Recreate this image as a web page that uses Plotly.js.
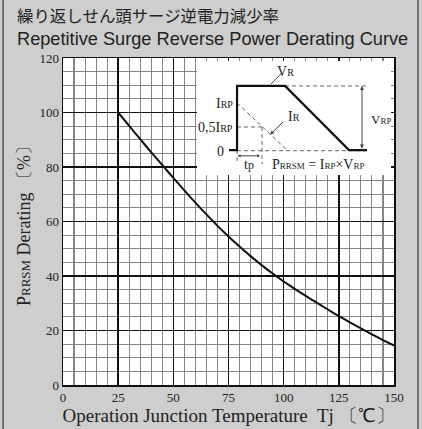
<!DOCTYPE html>
<html><head><meta charset="utf-8">
<script src="https://cdn.plot.ly/plotly-3.0.1.min.js"></script>
<style>html,body{margin:0;padding:0;background:#cecece;}#chart{width:422px;height:429px;}</style>
</head><body><div id="chart"></div>
<script>
// ---- main chart data ----
const tempC   = [25, 30, 35, 40, 45, 50, 55, 60, 65, 70, 75, 80, 85, 90, 95, 100, 105, 110, 115, 120, 125, 130, 135, 140, 145, 150];
const derating = [100, 95.1, 90.2, 85.4, 80.7, 76.0, 71.4, 66.9, 62.6, 58.4, 54.5, 50.8, 47.3, 44.0, 40.9, 38.0, 35.3, 32.7, 30.2, 27.7, 25.3, 23.0, 20.8, 18.6, 16.5, 14.5];
const xTicks = [0, 25, 50, 75, 100, 125, 150];
const yTicks = [0, 20, 40, 60, 80, 100, 120];

// ---- inset schematic (t in units of tp, a relative to VRP) ----
const vrT = [-0.32, 0, 0, 1.92, 4.48, 5.2];
const vrA = [0, 0, 1, 1, 0, 0];
const irT = [0, 2];
const irA = [0.734, 0];
const guideT = [0, 5.3, null, 1.92, 5.24, null, 0, 1, null, 1, 1, null, 0, 0];
const guideA = [-0.01, -0.01, null, 1, 1, null, 0.36, 0.36, null, 0.36, -0.22, null, 0, -0.22];
const insetBoxT = [-1.6, 6.16, 6.16, -1.6, -1.6];
const insetBoxA = [-0.39, -0.39, 1.39, 1.39, -0.39];

const serif = 'Liberation Serif, Times New Roman, serif';
const sm = (s, px) => `<span style="font-size:${px}px">${s}</span>`;

const traces = [
  {x: tempC, y: derating, mode: 'lines', line: {color: '#111', width: 2, shape: 'spline', smoothing: 0.5}, xaxis: 'x', yaxis: 'y', hoverinfo: 'skip'},
  {x: insetBoxT, y: insetBoxA, mode: 'lines', fill: 'toself', fillcolor: '#ffffff', line: {width: 0, color: 'rgba(0,0,0,0)'}, xaxis: 'x2', yaxis: 'y2', hoverinfo: 'skip'},
  {x: guideT, y: guideA, mode: 'lines', line: {color: '#666', width: 1, dash: '4px,3px'}, xaxis: 'x2', yaxis: 'y2', connectgaps: false, hoverinfo: 'skip'},
  {x: irT, y: irA, mode: 'lines', line: {color: '#666', width: 1, dash: '4px,3px'}, xaxis: 'x2', yaxis: 'y2', hoverinfo: 'skip'},
  {x: [1.36, 1.76], y: [1.03, 1.19], mode: 'lines', line: {color: '#444', width: 1}, xaxis: 'x2', yaxis: 'y2', hoverinfo: 'skip'},
  {x: vrT, y: vrA, mode: 'lines', line: {color: '#111', width: 2.2}, xaxis: 'x2', yaxis: 'y2', hoverinfo: 'skip'}
];

const insetLbl = {xref: 'x2', yref: 'y2', showarrow: false, font: {family: serif, size: 14, color: '#222'}};
const annotations = [
  {xref: 'paper', yref: 'paper', x: -0.145, y: 1.13, xanchor: 'left', yanchor: 'middle', showarrow: false,
   text: '繰り返しせん頭サージ逆電力減少率', font: {family: 'Noto Sans CJK JP, sans-serif', size: 16.4, color: '#222'}},
  {xref: 'paper', yref: 'paper', x: -0.145, y: 1.058, xanchor: 'left', yanchor: 'middle', showarrow: false,
   text: 'Repetitive Surge Reverse Power Derating Curve', font: {family: 'Liberation Sans, Arial, sans-serif', size: 18.2, color: '#222'}},
  Object.assign({}, insetLbl, {x: 1.5, y: 1.23, xanchor: 'left', text: 'V' + sm('R', 10)}),
  Object.assign({}, insetLbl, {x: 5.28, y: 0.47, xanchor: 'left', text: 'V' + sm('RP', 9), font: {family: serif, size: 13, color: '#222'}}),
  Object.assign({}, insetLbl, {x: -0.08, y: 0.72, xanchor: 'right', text: 'I' + sm('RP', 10)}),
  Object.assign({}, insetLbl, {x: -0.08, y: 0.35, xanchor: 'right', text: '0,5I' + sm('RP', 10)}),
  Object.assign({}, insetLbl, {x: -0.46, y: -0.02, xanchor: 'right', text: '0'}),
  Object.assign({}, insetLbl, {x: 1.95, y: 0.52, xanchor: 'left', text: 'I' + sm('R', 10)}),
  Object.assign({}, insetLbl, {x: 0.48, y: -0.23, xanchor: 'center', text: 't' + sm('p', 12)}),
  Object.assign({}, insetLbl, {x: 1.3, y: -0.23, xanchor: 'left', text: 'P' + sm('RRSM', 9) + ' = I' + sm('RP', 9) + '×V' + sm('RP', 9)}),
  {xref: 'x2', yref: 'y2', axref: 'x2', ayref: 'y2', x: 5.0, y: 1.0, ax: 5.0, ay: 0.0, text: '', showarrow: true,
   arrowside: 'end+start', arrowhead: 2, arrowsize: 0.8, arrowwidth: 1, arrowcolor: '#444'},
  {xref: 'x2', yref: 'y2', axref: 'x2', ayref: 'y2', x: 1.32, y: 0.24, ax: 1.9, ay: 0.46, text: '', showarrow: true,
   arrowhead: 2, arrowsize: 0.8, arrowwidth: 1, arrowcolor: '#444'},
  {xref: 'x2', yref: 'y2', axref: 'x2', ayref: 'y2', x: 0.02, y: -0.09, ax: 0.98, ay: -0.09, text: '', showarrow: true,
   arrowside: 'end+start', arrowhead: 2, arrowsize: 0.6, arrowwidth: 1, arrowcolor: '#444'}
];

const layout = {
  width: 422, height: 429,
  margin: {l: 63, r: 28, t: 58, b: 44},
  paper_bgcolor: '#cecece', plot_bgcolor: '#ffffff',
  showlegend: false,
  xaxis: {
    range: [0, 150], tickvals: xTicks, ticktext: xTicks.map(String), ticks: '',
    showgrid: true, gridcolor: '#111', gridwidth: 1.6,
    minor: {dtick: 5, showgrid: true, gridcolor: '#858585', gridwidth: 1.1, ticks: ''},
    showline: true, mirror: true, linecolor: '#111', linewidth: 1.5, zeroline: false,
    tickfont: {family: serif, size: 13, color: '#222'},
    title: {text: 'Operation Junction Temperature  Tj 〔℃〕', font: {family: serif, size: 19, color: '#222'}, standoff: 4},
    fixedrange: true
  },
  yaxis: {
    range: [0, 120], tickvals: yTicks, ticktext: yTicks.map(String), ticks: '',
    showgrid: true, gridcolor: '#111', gridwidth: 1.6,
    minor: {dtick: 5, showgrid: true, gridcolor: '#858585', gridwidth: 1.1, ticks: ''},
    showline: true, mirror: true, linecolor: '#111', linewidth: 1.5, zeroline: false,
    tickfont: {family: serif, size: 13, color: '#222'},
    title: {text: 'P' + sm('RRSM', 13) + ' Derating 〔%〕', font: {family: serif, size: 18, color: '#222'}, standoff: 4},
    fixedrange: true
  },
  xaxis2: {domain: [0.405, 0.991], range: [-1.6, 6.16], anchor: 'y2', visible: false, fixedrange: true},
  yaxis2: {domain: [0.642, 0.991], range: [-0.39, 1.39], anchor: 'x2', visible: false, fixedrange: true},
  annotations: annotations,
  shapes: [
    {type: 'line', xref: 'paper', yref: 'paper', x0: -0.181, x1: -0.181, y0: -0.14, y1: 1.18, line: {color: '#555', width: 1.5}},
    {type: 'line', xref: 'paper', yref: 'paper', x0: 1.0725, x1: 1.0725, y0: -0.14, y1: 1.18, line: {color: '#555', width: 1.5}}
  ]
};

Plotly.newPlot('chart', traces, layout, {staticPlot: true, displayModeBar: false});
</script></body></html>
